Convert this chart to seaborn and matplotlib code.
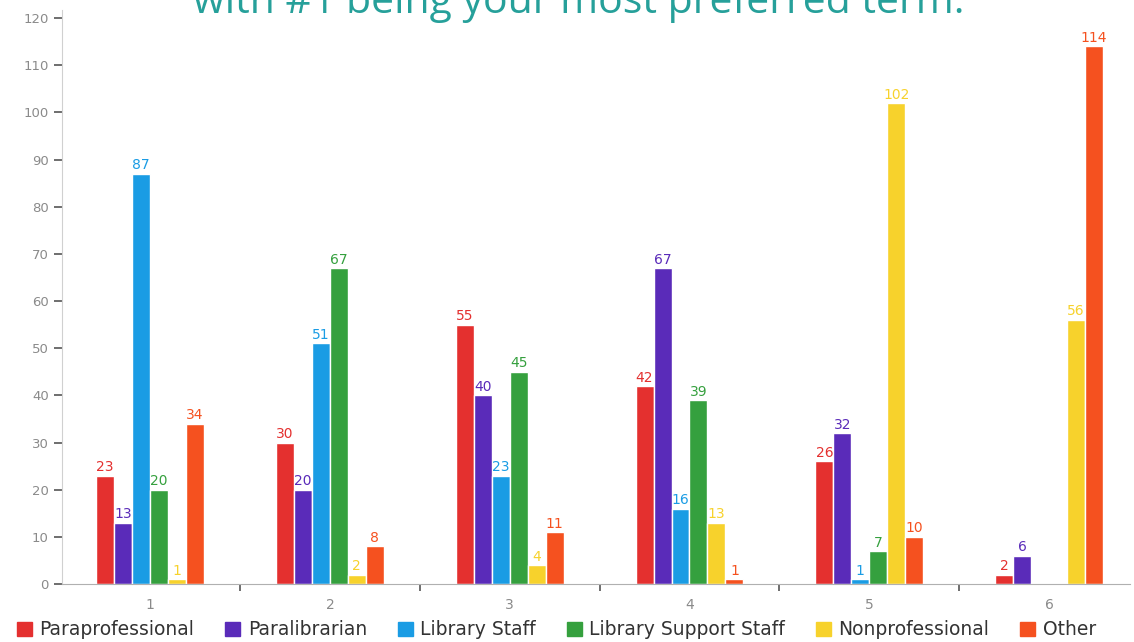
import matplotlib
matplotlib.use("Agg")
import matplotlib.pyplot as plt
import numpy as np
import pandas as pd
import seaborn as sns

rankings = ["1", "2", "3", "4", "5", "6"]
terms = ["Paraprofessional", "Paralibrarian", "Library Staff",
         "Library Support Staff", "Nonprofessional", "Other"]
paraprofessional = [23, 30, 55, 42, 26, 2]
paralibrarian = [13, 20, 40, 67, 32, 6]
library_staff = [87, 51, 23, 16, 1, 0]
library_support_staff = [20, 67, 45, 39, 7, 0]
nonprofessional = [1, 2, 4, 13, 102, 56]
other = [34, 8, 11, 1, 10, 114]

colors = ["#e4302f", "#5a2bb9", "#1a9ce4", "#35a03e", "#f7d22c", "#f5511f"]

series = [paraprofessional, paralibrarian, library_staff,
          library_support_staff, nonprofessional, other]
rows = []
for term, vals in zip(terms, series):
    for rank, v in zip(rankings, vals):
        rows.append({"rank": rank, "term": term, "count": v})
df = pd.DataFrame(rows)

sns.set_style("white")
plt.rcParams["font.family"] = ["DejaVu Sans"]

fig = plt.figure(figsize=(11.34, 6.42), dpi=100)
ax = fig.add_axes([62 / 1134, 58 / 642, 1068 / 1134, 574 / 642])

sns.barplot(data=df, x="rank", y="count", hue="term", hue_order=terms,
            palette=colors, width=0.6, saturation=1, ax=ax, legend=False)

# value labels in the bar colour, no label for zero
for cont, col in zip(ax.containers, colors):
    labels = [f"{int(v)}" if v > 0 else "" for v in cont.datavalues]
    ax.bar_label(cont, labels=labels, color=col, fontsize=10, padding=1,
                 fontweight="medium")

ax.set_ylim(0, 121.7)
ax.set_xlim(-0.49, 5.45)
ax.set_yticks(np.arange(0, 121, 10))
ax.set_xlabel("")
ax.set_ylabel("")

for s in ["top", "right"]:
    ax.spines[s].set_visible(False)
ax.spines["left"].set_color("#d0d0d0")
ax.spines["bottom"].set_color("#b0b0b0")
ax.tick_params(axis="y", length=6, width=1.2, color="#555555",
               labelcolor="#8a8a8a", labelsize=9.5, left=True)
ax.tick_params(axis="x", which="major", length=0, labelcolor="#8a8a8a",
               labelsize=10, pad=10)
ax.set_xticks(np.arange(0.5, 5.5, 1), minor=True)
ax.tick_params(axis="x", which="minor", length=5, width=1.2,
               color="#555555", bottom=True)

# legend along the bottom
handles = [plt.Rectangle((0, 0), 1, 1, color=c) for c in colors]
fig.legend(handles, terms, loc="lower left", bbox_to_anchor=(0.0, -0.022),
           ncol=6, frameon=False, fontsize=13.5, handlelength=0.8,
           handleheight=0.8, handletextpad=0.4, columnspacing=1.65,
           labelcolor="#333333")

fig.text(0.51, 1 - 13 / 642, "with #1 being your most preferred term.",
         ha="center", va="baseline", fontsize=29.5, color="#26a09a",
         family=["Open Sans", "DejaVu Sans"])

fig.savefig("out.png", dpi=100)
